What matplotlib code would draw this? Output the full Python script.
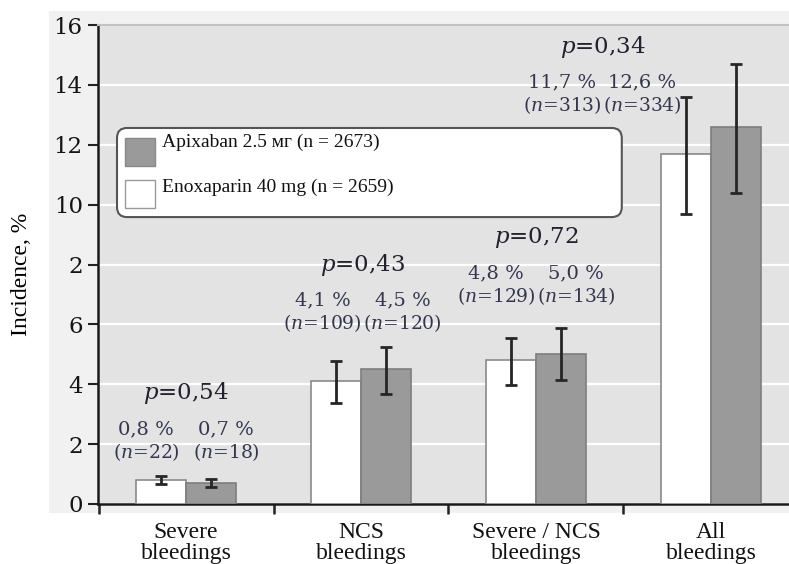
import matplotlib
matplotlib.use('Agg')
import matplotlib.pyplot as plt
from matplotlib.patches import Rectangle, FancyBboxPatch
import numpy as np

plt.rcParams['mathtext.fontset'] = 'dejavuserif'

# data
categories = ['Severe\nbleedings', 'NCS\nbleedings', 'Severe / NCS\nbleedings', 'All\nbleedings']
enox = [0.8, 4.1, 4.8, 11.7]
apix = [0.7, 4.5, 5.0, 12.6]
enox_ci_low = [0.67, 3.37, 3.97, 9.7]
enox_ci_high = [0.93, 4.77, 5.53, 13.6]
apix_ci_low = [0.57, 3.67, 4.13, 10.4]
apix_ci_high = [0.82, 5.23, 5.87, 14.7]
enox_pct = ['0,8', '4,1', '4,8', '11,7']
apix_pct = ['0,7', '4,5', '5,0', '12,6']
enox_n = [22, 109, 129, 313]
apix_n = [18, 120, 134, 334]
p_values = ['0,54', '0,43', '0,72', '0,34']
ytick_labels = ['0', '2', '4', '6', '2', '10', '12', '14', '16']

legend_labels = ['Apixaban 2.5 мг (n = 2673)', 'Enoxaparin 40 mg (n = 2659)']

# layout of the annotation blocks (x shift of block, y of p-value line)
label_shift = [0.0, 0.01, 0.0, -0.62]
p_y = [3.7, 8.0, 8.9, 15.27]

W, H = 789, 564
fig = plt.figure(figsize=(W / 100, H / 100), dpi=100)
fig.patches.append(Rectangle((49 / W, 1 - 513 / H), 1 - 49 / W, (513 - 11) / H,
                             transform=fig.transFigure, facecolor='#f1f1f1',
                             edgecolor='none', zorder=-1))
ax = fig.add_axes([98 / W, 1 - 504 / H, 1 - 98 / W, (504 - 25) / H])
ax.set_facecolor('#e3e3e3')

x = np.arange(len(categories))
bw = 0.285
ax.bar(x - bw / 2, enox, bw, color='white', edgecolor='#8a8a8a', linewidth=1.2, zorder=3)
ax.bar(x + bw / 2, apix, bw, color='#9a9a9a', edgecolor='#7e7e7e', linewidth=1.2, zorder=3)

enox_err = [np.array(enox) - np.array(enox_ci_low), np.array(enox_ci_high) - np.array(enox)]
apix_err = [np.array(apix) - np.array(apix_ci_low), np.array(apix_ci_high) - np.array(apix)]
ax.errorbar(x - bw / 2, enox, yerr=enox_err, fmt='none', ecolor='#262626',
            elinewidth=2, capsize=4.5, capthick=2, zorder=4)
ax.errorbar(x + bw / 2, apix, yerr=apix_err, fmt='none', ecolor='#262626',
            elinewidth=2, capsize=4.5, capthick=2, zorder=4)

ax.set_xlim(-0.503, 3.446)
ax.set_ylim(0, 16)
ax.set_yticks(np.arange(0, 17, 2))
ax.set_yticklabels(ytick_labels, family='DejaVu Serif', fontsize=16.5, color='#141414')
ax.yaxis.grid(True, color='white', linewidth=1.6, zorder=1)
ax.set_axisbelow(True)

ax.set_xticks(x)
ax.set_xticklabels(categories, family='Liberation Serif', fontsize=17,
                   linespacing=1.0, color='#111111')
ax.set_xticks(np.arange(-0.5, 3.0, 1.0), minor=True)
ax.tick_params(axis='x', which='major', length=0, pad=13)
ax.tick_params(axis='x', which='minor', length=7, width=1.8, direction='out', color='#222222')
ax.tick_params(axis='y', length=7, width=1.5, direction='out', color='#222222', pad=4)

ax.spines['right'].set_visible(False)
ax.spines['top'].set_color('#c2c2c2')
ax.spines['top'].set_linewidth(1.5)
ax.spines['left'].set_linewidth(1.8)
ax.spines['bottom'].set_linewidth(1.8)
ax.spines['left'].set_color('#1a1a1a')
ax.spines['bottom'].set_color('#1a1a1a')

ax.set_ylabel('Incidence, %', family='Liberation Serif', fontsize=17)
ax.yaxis.set_label_coords(-0.095, 0.48)

# annotations
dx = 0.229
for i in range(len(categories)):
    cx = x[i] + label_shift[i]
    ax.text(cx, p_y[i], f'$p$=' + p_values[i], ha='center', va='center',
            family='DejaVu Serif', fontsize=16.5, color='#22222e', zorder=5)
    ax.text(cx - dx, p_y[i] - 1.2, f'{enox_pct[i]} %', ha='center', va='center',
            family='DejaVu Serif', fontsize=14, color='#35354e', zorder=5)
    ax.text(cx + dx, p_y[i] - 1.2, f'{apix_pct[i]} %', ha='center', va='center',
            family='DejaVu Serif', fontsize=14, color='#35354e', zorder=5)
    ax.text(cx - dx, p_y[i] - 1.95, f'($n$={enox_n[i]})', ha='center', va='center',
            family='DejaVu Serif', fontsize=13.5, color='#35354e', zorder=5)
    ax.text(cx + dx, p_y[i] - 1.95, f'($n$={apix_n[i]})', ha='center', va='center',
            family='DejaVu Serif', fontsize=13.5, color='#35354e', zorder=5)

# legend box drawn by hand
aw, ah = 691, 479
box = FancyBboxPatch((0.0275, 0.599), 0.7305, 0.186,
                     boxstyle='round,pad=0,rounding_size=0.0145',
                     mutation_aspect=aw / ah, transform=ax.transAxes,
                     facecolor='white', edgecolor='#555555', linewidth=1.5, zorder=6)
ax.add_patch(box)
ax.add_patch(Rectangle((0.039, 0.706), 0.0435, 0.058, transform=ax.transAxes,
                       facecolor='#9a9a9a', edgecolor='#888888', linewidth=1, zorder=7))
ax.add_patch(Rectangle((0.039, 0.618), 0.0435, 0.058, transform=ax.transAxes,
                       facecolor='white', edgecolor='#999999', linewidth=1, zorder=7))
ax.text(0.0926, 0.756, legend_labels[0], transform=ax.transAxes, va='center', ha='left',
        family='Liberation Serif', fontsize=14, color='#111111', zorder=8)
ax.text(0.0926, 0.662, legend_labels[1], transform=ax.transAxes, va='center', ha='left',
        family='Liberation Serif', fontsize=14, color='#111111', zorder=8)

fig.savefig('out.png', dpi=100)
